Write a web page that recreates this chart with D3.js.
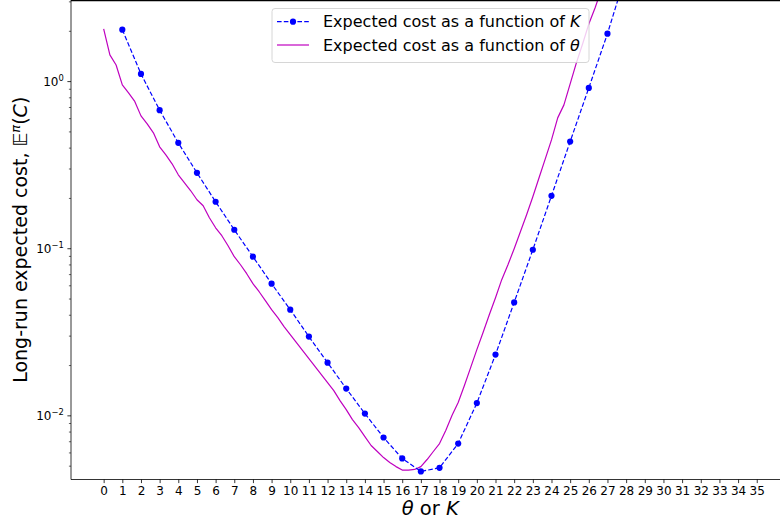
<!DOCTYPE html>
<html>
<head>
<meta charset="utf-8">
<script src="https://cdn.jsdelivr.net/npm/d3@7"></script>
<style>
  html, body { margin: 0; padding: 0; background: #ffffff; }
  svg { display: block; font-family: "DejaVu Sans", sans-serif; }
</style>
</head>
<body>
<svg id="chart" width="780" height="519"></svg>
<script>
// Threshold K (integer) and its long-run expected cost
const kValues = [1, 2, 3, 4, 5, 6, 7, 8, 9, 10, 11, 12, 13, 14, 15, 16, 17, 18, 19, 20,
                 21, 22, 23, 24, 25, 26, 27, 28];
const costK = [2.046, 1.112, 0.675, 0.430, 0.2846, 0.191, 0.1299, 0.0896, 0.0618, 0.0432,
               0.0298, 0.0208, 0.01456, 0.01032, 0.00742, 0.00556, 0.00465, 0.00489, 0.00683, 0.01193,
               0.02325, 0.04775, 0.0986, 0.2073, 0.4378, 0.917, 1.936, 4.46];

// Continuous threshold theta, sampled every 1/3
const thetaStep = 1 / 3;
const costTheta = [2.065, 1.444, 1.258, 0.9556, 0.856, 0.7613, 0.6237, 0.5586, 0.4935, 0.4072,
                   0.3646, 0.3222, 0.2769, 0.248, 0.2222, 0.1963, 0.1807, 0.1532, 0.1335, 0.1196,
                   0.1042, 0.0896, 0.0802, 0.0709, 0.0618, 0.0553, 0.0489, 0.0432, 0.0387, 0.0342,
                   0.0306, 0.0274, 0.0246, 0.0220, 0.0197, 0.01766, 0.01581, 0.01417, 0.01234, 0.0109,
                   0.0095, 0.00851, 0.00752, 0.00665, 0.00612, 0.00563, 0.00526, 0.00497, 0.00474, 0.00474,
                   0.00478, 0.00497, 0.00548, 0.00612, 0.00683, 0.00817, 0.01004, 0.01201, 0.01518, 0.01944,
                   0.0249, 0.0315, 0.0403, 0.0509, 0.0653, 0.0802, 0.100, 0.1264, 0.1597, 0.2045,
                   0.2657, 0.345, 0.448, 0.6067, 0.7257, 0.9688, 1.2935, 1.68, 2.213, 2.757,
                   3.533, 4.527];
const thetaValues = d3.range(costTheta.length).map(i => i * thetaStep);

const xTickValues = d3.range(0, 36);
const yMajorTicks = [1e-2, 1e-1, 1e0];
const yTickExponents = ["\u22122", "\u22121", "0"];

const legendLabels = [
  { prefix: "Expected cost as a function of ", symbol: "K" },
  { prefix: "Expected cost as a function of ", symbol: "\u03b8" }
];

const colorK = "#0000ff";
const colorTheta = "#bf00bf";
const lineWidth = 1.2;
const dashK = "4.6,2.2";

const svg = d3.select("#chart");
const W = 780, H = 519;
const plot = { left: 71, top: 0, right: 789.4, bottom: 479.5 };

const x = d3.scaleLinear().domain([-1.75, 36.75]).range([plot.left, plot.right]);
const y = d3.scaleLog()
  .domain([Math.pow(10, -2.3808), Math.pow(10, 0.4883)])
  .range([plot.bottom, plot.top]);

svg.append("rect").attr("width", W).attr("height", H).attr("fill", "#ffffff");

svg.append("defs").append("clipPath").attr("id", "plotClip")
  .append("rect")
  .attr("x", plot.left).attr("y", plot.top)
  .attr("width", plot.right - plot.left).attr("height", plot.bottom - plot.top);

const gData = svg.append("g").attr("clip-path", "url(#plotClip)");

// theta curve
const lineTheta = d3.line()
  .x((d, i) => x(thetaValues[i]))
  .y(d => y(d));
gData.append("path")
  .datum(costTheta)
  .attr("d", lineTheta)
  .attr("fill", "none")
  .attr("stroke", colorTheta)
  .attr("stroke-width", lineWidth)
  .attr("stroke-linejoin", "round");

// K curve: dashed line with dot markers
const lineK = d3.line()
  .x((d, i) => x(kValues[i]))
  .y(d => y(d));
gData.append("path")
  .datum(costK)
  .attr("d", lineK)
  .attr("fill", "none")
  .attr("stroke", colorK)
  .attr("stroke-width", lineWidth)
  .attr("stroke-dasharray", dashK);
gData.selectAll("circle.k")
  .data(costK)
  .join("circle")
  .attr("class", "k")
  .attr("cx", (d, i) => x(kValues[i]))
  .attr("cy", d => y(d))
  .attr("r", 3.1)
  .attr("fill", colorK);

// X axis
const xAxis = d3.axisBottom(x).tickValues(xTickValues).tickSize(3.6).tickPadding(3)
  .tickFormat(d3.format("d"));
const gx = svg.append("g").attr("transform", `translate(0,${plot.bottom})`).call(xAxis);
gx.select(".domain").remove();
gx.selectAll(".tick line").attr("stroke", "#000").attr("stroke-width", 0.8);
gx.selectAll(".tick text").attr("font-size", "12px").attr("fill", "#000")
  .attr("font-family", "DejaVu Sans");

// Y axis: minor ticks first
const yDomain = y.domain();
const minorTicks = [];
for (let e = -3; e <= 1; e++) {
  for (let m = 2; m <= 9; m++) {
    const v = m * Math.pow(10, e);
    if (v >= yDomain[0] && v <= yDomain[1]) minorTicks.push(v);
  }
}
const gy = svg.append("g");
gy.selectAll("line.minor")
  .data(minorTicks)
  .join("line")
  .attr("class", "minor")
  .attr("x1", plot.left).attr("x2", plot.left - 2.1)
  .attr("y1", d => y(d)).attr("y2", d => y(d))
  .attr("stroke", "#000").attr("stroke-width", 0.6);
gy.selectAll("line.major")
  .data(yMajorTicks)
  .join("line")
  .attr("class", "major")
  .attr("x1", plot.left).attr("x2", plot.left - 3.6)
  .attr("y1", d => y(d)).attr("y2", d => y(d))
  .attr("stroke", "#000").attr("stroke-width", 0.8);
const yLabels = gy.selectAll("text.ylab")
  .data(yMajorTicks)
  .join("text")
  .attr("class", "ylab")
  .attr("x", plot.left - 7.2)
  .attr("y", d => y(d) + 4.3)
  .attr("text-anchor", "end")
  .attr("font-size", "12px")
  .attr("fill", "#000");
yLabels.append("tspan").text("10");
yLabels.append("tspan")
  .attr("dy", -5.2)
  .attr("font-size", "8.4px")
  .text((d, i) => yTickExponents[i]);

// spines
svg.append("line")
  .attr("x1", plot.left).attr("x2", plot.left)
  .attr("y1", plot.top).attr("y2", plot.bottom)
  .attr("stroke", "#000").attr("stroke-width", 0.8);
svg.append("line")
  .attr("x1", plot.left).attr("x2", plot.right)
  .attr("y1", plot.bottom).attr("y2", plot.bottom)
  .attr("stroke", "#000").attr("stroke-width", 0.8);
svg.append("line")
  .attr("x1", plot.left).attr("x2", plot.right)
  .attr("y1", plot.top + 0.6).attr("y2", plot.top + 0.6)
  .attr("stroke", "#000").attr("stroke-width", 1.2);

// axis titles
const xTitle = svg.append("text")
  .attr("x", (plot.left + plot.right) / 2)
  .attr("y", 515)
  .attr("text-anchor", "middle")
  .attr("font-size", "19.5px")
  .attr("fill", "#000");
xTitle.append("tspan").attr("font-style", "italic").text("\u03b8");
xTitle.append("tspan").text(" or ");
xTitle.append("tspan").attr("font-style", "italic").text("K");

const yTitle = svg.append("text")
  .attr("transform", `translate(27,${(plot.top + plot.bottom) / 2}) rotate(-90)`)
  .attr("text-anchor", "middle")
  .attr("font-size", "19px")
  .attr("fill", "#000");
yTitle.append("tspan").text("Long-run expected cost, \uD835\uDD3C");
yTitle.append("tspan").attr("dy", -7).attr("font-size", "13px").attr("font-style", "italic").text("\u03c0");
yTitle.append("tspan").attr("dy", 7).text("(");
yTitle.append("tspan").attr("font-style", "italic").text("C");
yTitle.append("tspan").text(")");

// legend
const lg = svg.append("g");
lg.append("rect")
  .attr("x", 272).attr("y", 8.5).attr("width", 317).attr("height", 54)
  .attr("rx", 3)
  .attr("fill", "#ffffff").attr("fill-opacity", 0.8)
  .attr("stroke", "#cccccc").attr("stroke-width", 0.8);
const rowY = [21.7, 45];
lg.append("line")
  .attr("x1", 277).attr("x2", 309).attr("y1", rowY[0]).attr("y2", rowY[0])
  .attr("stroke", colorK).attr("stroke-width", lineWidth).attr("stroke-dasharray", dashK);
lg.append("circle").attr("cx", 293).attr("cy", rowY[0]).attr("r", 3.1).attr("fill", colorK);
lg.append("line")
  .attr("x1", 277).attr("x2", 309).attr("y1", rowY[1]).attr("y2", rowY[1])
  .attr("stroke", colorTheta).attr("stroke-width", lineWidth);
legendLabels.forEach((d, i) => {
  const t = lg.append("text")
    .attr("x", 323).attr("y", rowY[i] + 5.6)
    .attr("font-size", "16px").attr("fill", "#000");
  t.append("tspan").text(d.prefix);
  t.append("tspan").attr("font-style", "italic").text(d.symbol);
});
</script>
</body>
</html>
